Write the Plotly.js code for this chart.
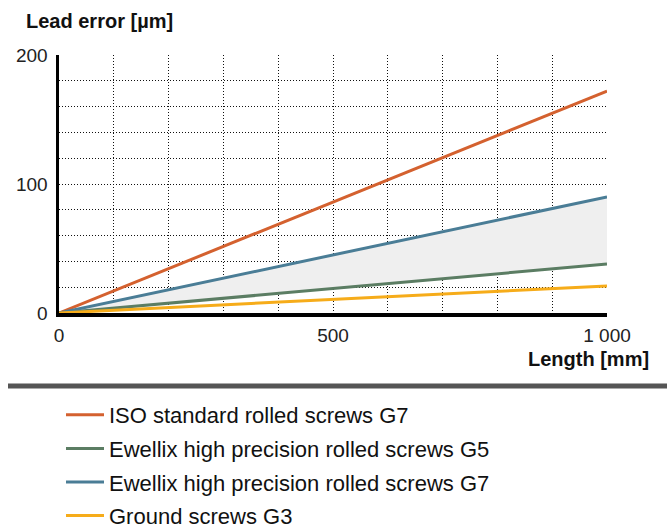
<!DOCTYPE html>
<html>
<head>
<meta charset="utf-8">
<script src="https://cdn.plot.ly/plotly-3.0.1.min.js"></script>
<style>html,body{margin:0;padding:0;background:#fff;}#chart{width:667px;height:528px;}</style>
</head>
<body>
<div id="chart"></div>
<script>
// Data
const lengthMm = [0, 500, 1000];
const isoG7 = [0, 86, 172];
const ewellixG5 = [0, 19, 38];
const ewellixG7 = [0, 45, 90];
const groundG3 = [0, 10.5, 21];

const seriesNames = [
  'ISO standard rolled screws G7',
  'Ewellix high precision rolled screws G5',
  'Ewellix high precision rolled screws G7',
  'Ground screws G3'
];
const xTickVals = [0, 500, 1000];
const xTickText = ['0', '500', '1 000'];
const yTickVals = [0, 100, 200];
const yTickText = ['0', '100', '200'];

const FONT = 'Liberation Sans, Arial, Helvetica, sans-serif';

const traces = [
  {x: lengthMm, y: isoG7, name: seriesNames[0], mode: 'lines', legendgroup: 'a',
   line: {color: '#d4612f', width: 3}},
  {x: lengthMm, y: ewellixG5, name: seriesNames[1], mode: 'lines', legendgroup: 'b',
   line: {color: '#5b7d63', width: 3}},
  // band between G5 and G7 (no legend entry)
  {x: lengthMm, y: ewellixG7, name: 'band', mode: 'lines', showlegend: false, legendgroup: 'c',
   line: {color: 'rgba(0,0,0,0)', width: 0}, fill: 'tonexty', fillcolor: '#efefef'},
  {x: lengthMm, y: ewellixG7, name: seriesNames[2], mode: 'lines', legendgroup: 'c',
   line: {color: '#4a7d96', width: 3}},
  {x: lengthMm, y: groundG3, name: seriesNames[3], mode: 'lines', legendgroup: 'd',
   line: {color: '#f6ac1a', width: 3}}
];

const L = 59, T = 55, W = 548, H = 258;
function px2x(p){ return (p - L) / W; }
function py2y(p){ return (T + H - p) / H; }

const layout = {
  width: 667, height: 528,
  margin: {l: L, r: 667 - L - W, t: T, b: 528 - T - H, pad: 0, autoexpand: false},
  paper_bgcolor: '#fff', plot_bgcolor: '#fff',
  font: {family: FONT, color: '#222', size: 19},
  showlegend: true,
  legend: {
    xref: 'paper', yref: 'paper',
    x: px2x(61), y: py2y(394), xanchor: 'left', yanchor: 'top',
    font: {family: FONT, size: 22, color: '#111'},
    tracegroupgap: 2, traceorder: 'grouped', itemwidth: 38,
    bgcolor: 'rgba(0,0,0,0)', borderwidth: 0
  },
  xaxis: {
    range: [0, 1000], tickvals: xTickVals, ticktext: xTickText,
    showgrid: true, gridcolor: '#111', gridwidth: 1, griddash: '1px,2px',
    minor: {dtick: 100, showgrid: true, gridcolor: '#111', gridwidth: 1, griddash: '1px,2px'},
    showline: true, linecolor: '#000', linewidth: 4,
    zeroline: false, ticks: '', ticklabelstandoff: 2,
    tickfont: {family: FONT, size: 19, color: '#222'}, fixedrange: true
  },
  yaxis: {
    range: [0, 200], tickvals: yTickVals, ticktext: yTickText,
    showgrid: true, gridcolor: '#111', gridwidth: 1, griddash: '1px,2px',
    minor: {dtick: 20, showgrid: true, gridcolor: '#111', gridwidth: 1, griddash: '1px,2px'},
    showline: true, linecolor: '#000', linewidth: 3.5,
    zeroline: false, ticks: '', ticklabelstandoff: 4,
    tickfont: {family: FONT, size: 19, color: '#222'}, fixedrange: true
  },
  annotations: [
    {text: '<b>Lead error [µm]</b>', xref: 'paper', yref: 'paper',
     x: px2x(24), y: py2y(21), xanchor: 'left', yanchor: 'middle', showarrow: false,
     font: {family: FONT, size: 20, color: '#111'}},
    {text: '<b>Length [mm]</b>', xref: 'paper', yref: 'paper',
     x: px2x(651), y: py2y(359), xanchor: 'right', yanchor: 'middle', showarrow: false,
     font: {family: FONT, size: 20, color: '#111'}}
  ],
  shapes: [
    {type: 'line', xref: 'paper', yref: 'paper',
     x0: px2x(8), x1: px2x(667), y0: py2y(386), y1: py2y(386),
     line: {color: '#555', width: 5}}
  ]
};

Plotly.newPlot('chart', traces, layout, {displayModeBar: false, staticPlot: true});
</script>
</body>
</html>
